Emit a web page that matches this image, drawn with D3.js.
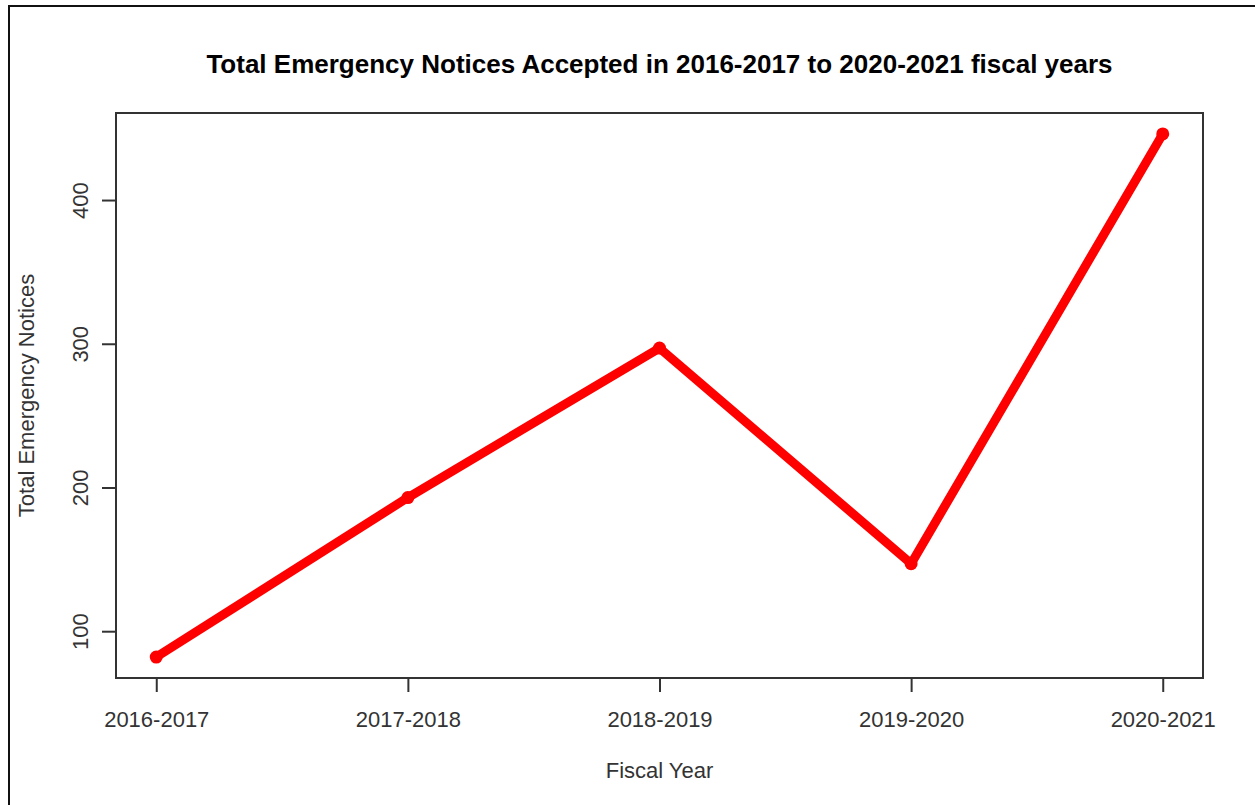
<!DOCTYPE html>
<html lang="en">
<head>
    <meta charset="utf-8">
    <title>Emergency Notices</title>
    <script src="https://d3js.org/d3.v7.min.js"></script>
    <style>
        body { margin: 0; background: #fff; }
        svg text { font-family: "Liberation Sans", Arial, sans-serif; fill: #222; }
        .axis path, .axis line { stroke: #333; stroke-width: 2; }
        .axis text { font-size: 22px; fill: #333; }
    </style>
</head>
<body>
<div id="chart"></div>
<script>
    // data
    const years = ["2016-2017", "2017-2018", "2018-2019", "2019-2020", "2020-2021"];
    const notices = [82, 193, 297, 147, 446];
    const yTicks = [100, 200, 300, 400];

    const width = 1255, height = 805;
    const box = {left: 116, top: 113, right: 1203, bottom: 678};

    const svg = d3.select("#chart").append("svg")
        .attr("width", width)
        .attr("height", height);

    // outer frame
    svg.append("rect")
        .attr("x", 9).attr("y", 6)
        .attr("width", 1300).attr("height", 900)
        .attr("fill", "none")
        .attr("stroke", "#111")
        .attr("stroke-width", 2);

    // R style 4% padding on both scales
    const xScale = d3.scaleLinear()
        .domain([0.84, 5.16])
        .range([box.left, box.right]);

    const yMin = d3.min(notices), yMax = d3.max(notices);
    const pad = (yMax - yMin) * 0.04;
    const yScale = d3.scaleLinear()
        .domain([yMin - pad, yMax + pad])
        .range([box.bottom, box.top]);

    // x axis
    const xAxis = svg.append("g")
        .attr("class", "axis")
        .attr("transform", `translate(0,${box.bottom})`)
        .call(d3.axisBottom(xScale)
            .tickValues(d3.range(1, years.length + 1))
            .tickFormat(i => years[i - 1])
            .tickSize(14)
            .tickSizeOuter(0));
    xAxis.select(".domain").remove();
    xAxis.selectAll(".tick text")
        .attr("dy", null)
        .attr("y", 49);

    // y axis, labels turned like R
    const yAxis = svg.append("g")
        .attr("class", "axis")
        .attr("transform", `translate(${box.left},0)`)
        .call(d3.axisLeft(yScale)
            .tickValues(yTicks)
            .tickSize(14)
            .tickSizeOuter(0));
    yAxis.select(".domain").remove();
    yAxis.selectAll(".tick text")
        .attr("x", null).attr("dy", null)
        .attr("text-anchor", "middle")
        .attr("transform", "translate(-28,0) rotate(-90)");

    // plot box
    svg.append("rect")
        .attr("x", box.left).attr("y", box.top)
        .attr("width", box.right - box.left)
        .attr("height", box.bottom - box.top)
        .attr("fill", "none")
        .attr("stroke", "#333")
        .attr("stroke-width", 2);

    const line = d3.line()
        .x((d, i) => xScale(i + 1))
        .y(d => yScale(d));

    svg.append("path")
        .datum(notices)
        .attr("d", line)
        .attr("fill", "none")
        .attr("stroke", "#ff0000")
        .attr("stroke-width", 9)
        .attr("stroke-linejoin", "round");

    svg.append("g")
        .selectAll("circle")
        .data(notices)
        .enter()
        .append("circle")
        .attr("cx", (d, i) => xScale(i + 1))
        .attr("cy", d => yScale(d))
        .attr("r", 6.5)
        .attr("fill", "#ff0000");

    // titles
    svg.append("text")
        .attr("x", (box.left + box.right) / 2)
        .attr("y", 73)
        .attr("text-anchor", "middle")
        .attr("font-size", 26)
        .attr("font-weight", "bold")
        .style("fill", "#000")
        .text("Total Emergency Notices Accepted in 2016-2017 to 2020-2021 fiscal years");

    svg.append("text")
        .attr("x", (box.left + box.right) / 2)
        .attr("y", 778)
        .attr("text-anchor", "middle")
        .attr("font-size", 22)
        .style("fill", "#333")
        .text("Fiscal Year");

    svg.append("text")
        .attr("transform", `translate(34,${(box.top + box.bottom) / 2}) rotate(-90)`)
        .attr("text-anchor", "middle")
        .attr("font-size", 22)
        .style("fill", "#333")
        .text("Total Emergency Notices");
</script>
</body>
</html>
